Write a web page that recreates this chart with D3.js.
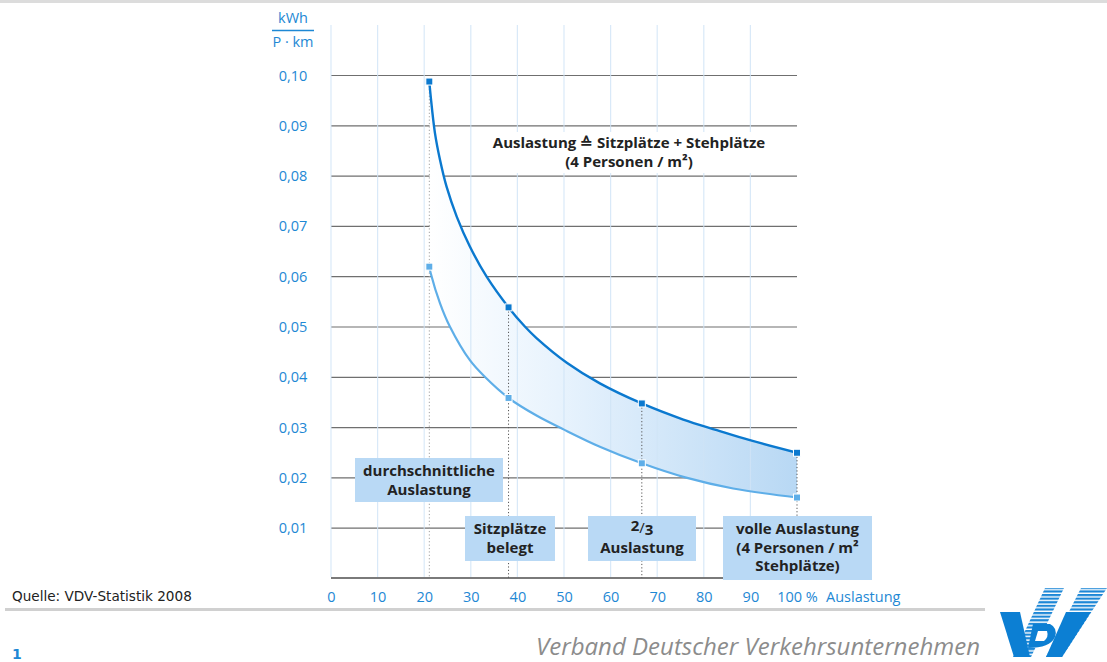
<!DOCTYPE html>
<html>
<head>
<meta charset="utf-8">
<script src="https://cdn.jsdelivr.net/npm/d3@7"></script>
<style>
  body { margin: 0; background: #fff; }
  svg { display: block; }
</style>
</head>
<body>
<div id="chart"></div>
<script>
// Werte (x = Auslastung in %, y = kWh je Personen-km)
const upperX = [21.1, 21.4, 22.3, 23.4, 24.8, 27.0, 29.8, 33.4, 38.1, 41.6, 44.1, 50.6, 57.7, 66.7, 75.6, 82.8, 89.9, 100];
const upperY = [0.0987, 0.0957, 0.0885, 0.0831, 0.0778, 0.0718, 0.0659, 0.0599, 0.0538, 0.0500, 0.0477, 0.0428, 0.0387, 0.0347, 0.0315, 0.0294, 0.0274, 0.0249];
const lowerX = [21.1, 21.4, 23.4, 25.5, 29.8, 33.0, 38.1, 44.1, 50.0, 57.7, 66.7, 76.0, 86.3, 100];
const lowerY = [0.0619, 0.0606, 0.0546, 0.0500, 0.0433, 0.0400, 0.0358, 0.0323, 0.0295, 0.0261, 0.0228, 0.0200, 0.0178, 0.0160];
const markerX = [21.1, 38.1, 66.7, 100];
const yTicks = [0.01, 0.02, 0.03, 0.04, 0.05, 0.06, 0.07, 0.08, 0.09, 0.10];
const xTicks = [0, 10, 20, 30, 40, 50, 60, 70, 80, 90, 100];
const boxLabels = [
  ["durchschnittliche", "Auslastung"],
  ["Sitzplätze", "belegt"],
  ["2/3", "Auslastung"],
  ["volle Auslastung", "(4 Personen / m²", "Stehplätze)"]
];

const W = 1107, H = 662;
const blue = "#1e88d4", darkBlue = "#0b79cf", lightBlue = "#5eaee8";
const boxFill = "#b9d9f5";
const boldFont = "'Open Sans', sans-serif";

const svg = d3.select("#chart").append("svg")
  .attr("width", W).attr("height", H);

const x = d3.scaleLinear().domain([0, 100]).range([331, 797]);
const y = d3.scaleLinear().domain([0, 0.10]).range([578, 75]);

const upper = upperX.map((d, i) => ({ x: d, y: upperY[i] }));
const lower = lowerX.map((d, i) => ({ x: d, y: lowerY[i] }));
const valAt = (arr, xv) => arr.find(p => p.x === xv).y;
const curve = d3.curveCatmullRom.alpha(0.5);

// obere Trennlinie
svg.append("rect").attr("x", 0).attr("y", 0).attr("width", W).attr("height", 3).attr("fill", "#dcdcdc");

// waagerechte Gitterlinien
svg.append("g")
  .attr("transform", `translate(${x(0)},0)`)
  .call(d3.axisLeft(y).tickValues(yTicks).tickSize(-(x(100) - x(0))).tickFormat(""))
  .call(g => g.select(".domain").remove())
  .call(g => g.selectAll("line").attr("stroke", "#6f6f6f").attr("stroke-width", 1.2));

// Fläche zwischen den Kurven
const defs = svg.append("defs");
const grad = defs.append("linearGradient").attr("id", "band")
  .attr("gradientUnits", "userSpaceOnUse")
  .attr("x1", x(21)).attr("x2", x(100)).attr("y1", 0).attr("y2", 0);
grad.append("stop").attr("offset", 0).attr("stop-color", "#ffffff");
grad.append("stop").attr("offset", 0.35).attr("stop-color", "#e8f3fd");
grad.append("stop").attr("offset", 1).attr("stop-color", "#b8d8f4");

defs.append("clipPath").attr("id", "aboveLower")
  .append("path")
  .attr("d", d3.area().x(d => x(d.x)).y0(0).y1(d => y(d.y)).curve(curve)(lower));

svg.append("path")
  .attr("d", d3.area().x(d => x(d.x)).y0(y(0)).y1(d => y(d.y)).curve(curve)(upper))
  .attr("fill", "url(#band)")
  .attr("clip-path", "url(#aboveLower)");

// senkrechte Hilfslinien
svg.append("g").selectAll("line")
  .data(xTicks.slice(0, 10))
  .enter().append("line")
  .attr("x1", d => x(d)).attr("x2", d => x(d))
  .attr("y1", 25).attr("y2", 577)
  .attr("stroke", "#cfe4f6").attr("stroke-opacity", 0.8).attr("stroke-width", 1.2);

// weißer Hintergrund für die Beschriftung oben
svg.append("rect").attr("x", 474).attr("y", 132).attr("width", 312).attr("height", 41).attr("fill", "#fff");

// x-Achse (Nulllinie)
svg.append("line")
  .attr("x1", x(0)).attr("x2", x(100))
  .attr("y1", y(0)).attr("y2", y(0))
  .attr("stroke", "#7a7a7a").attr("stroke-width", 2);

// gepunktete Senkrechte
svg.append("g").selectAll("line")
  .data(markerX)
  .enter().append("line")
  .attr("x1", d => x(d)).attr("x2", d => x(d))
  .attr("y1", d => y(valAt(upper, d)) + 4).attr("y2", y(0))
  .attr("stroke", (d, i) => i === 0 ? "#a0a0a0" : "#555")
  .attr("stroke-width", 1)
  .attr("stroke-dasharray", "1.2,2.2");

// Kurven
const line = d3.line().x(d => x(d.x)).y(d => y(d.y)).curve(curve);
svg.append("path").attr("d", line(lower))
  .attr("fill", "none").attr("stroke", lightBlue).attr("stroke-width", 2.2);
svg.append("path").attr("d", line(upper))
  .attr("fill", "none").attr("stroke", darkBlue).attr("stroke-width", 2.4);

// Markierungen
svg.append("g").selectAll("rect")
  .data(markerX)
  .enter().append("rect")
  .attr("x", d => x(d) - 3.5).attr("y", d => y(valAt(lower, d)) - 3.5)
  .attr("width", 7).attr("height", 7)
  .attr("fill", lightBlue).attr("stroke", "#fff").attr("stroke-width", 1);
svg.append("g").selectAll("rect")
  .data(markerX)
  .enter().append("rect")
  .attr("x", d => x(d) - 3.5).attr("y", d => y(valAt(upper, d)) - 3.5)
  .attr("width", 7).attr("height", 7)
  .attr("fill", darkBlue).attr("stroke", "#fff").attr("stroke-width", 1);

// Beschriftungskästen
const boxes = [
  { x0: 355, x1: 503, y0: 458, y1: 502 },
  { x0: 465, x1: 555, y0: 516, y1: 561 },
  { x0: 588, x1: 696, y0: 516, y1: 561 },
  { x0: 723, x1: 872, y0: 516, y1: 580 }
];
boxLabels.forEach((lines, i) => {
  const r = boxes[i];
  svg.append("rect")
    .attr("x", r.x0).attr("y", r.y0)
    .attr("width", r.x1 - r.x0).attr("height", r.y1 - r.y0)
    .attr("fill", boxFill);
  const cx = (r.x0 + r.x1) / 2;
  lines.forEach((t, j) => {
    const txt = svg.append("text")
      .attr("x", cx).attr("y", r.y0 + 18 + j * 18.5)
      .attr("text-anchor", "middle")
      .style("font-family", boldFont)
      .style("font-weight", "bold")
      .style("font-size", "15px")
      .style("fill", "#222");
    if (t === "2/3") {
      txt.attr("y", r.y0 + 16);
      txt.append("tspan").attr("dy", -1).text("2");
      txt.append("tspan").attr("dy", 1.5).style("font-weight", "normal").text("/");
      txt.append("tspan").attr("dy", 2).text("3");
    } else {
      txt.text(t);
    }
  });
});

// Beschriftung oben
svg.append("text")
  .attr("x", 629).attr("y", 148)
  .attr("text-anchor", "middle")
  .style("font-family", boldFont).style("font-weight", "bold")
  .style("font-size", "15px").style("fill", "#222")
  .text("Auslastung ≙ Sitzplätze + Stehplätze");
svg.append("text")
  .attr("x", 629).attr("y", 167)
  .attr("text-anchor", "middle")
  .style("font-family", boldFont).style("font-weight", "bold")
  .style("font-size", "15px").style("fill", "#222")
  .text("(4 Personen / m²)");

// y-Beschriftung
svg.append("g")
  .attr("transform", "translate(293,0)")
  .call(d3.axisLeft(y).tickValues(yTicks).tickSize(0)
    .tickFormat(d => d3.format(".2f")(d).replace(".", ",")))
  .call(g => g.select(".domain").remove())
  .call(g => g.selectAll("text")
    .attr("x", 0).attr("dy", "0.35em")
    .attr("text-anchor", "middle")
    .style("font-family", "'Open Sans', sans-serif")
    .style("font-size", "14.5px")
    .style("fill", blue));

// Einheit
svg.append("text").attr("x", 293).attr("y", 23).attr("text-anchor", "middle")
  .style("font-family", "'Open Sans', sans-serif").style("font-size", "14.5px").style("fill", blue)
  .text("kWh");
svg.append("line").attr("x1", 272).attr("x2", 314).attr("y1", 30.5).attr("y2", 30.5)
  .attr("stroke", blue).attr("stroke-width", 1.3);
svg.append("text").attr("x", 293).attr("y", 47).attr("text-anchor", "middle")
  .style("font-family", "'Open Sans', sans-serif").style("font-size", "14.5px").style("fill", blue)
  .text("P · km");

// x-Beschriftung
svg.append("g")
  .attr("transform", "translate(0,591)")
  .call(d3.axisBottom(x).tickValues(xTicks).tickSize(0)
    .tickFormat(d => d === 100 ? "100 %" : d))
  .call(g => g.select(".domain").remove())
  .call(g => g.selectAll("text")
    .attr("y", 0).attr("dy", "0.75em")
    .style("font-family", "'Open Sans', sans-serif")
    .style("font-size", "14.5px")
    .style("fill", blue));
svg.append("text").attr("x", 826).attr("y", 602)
  .style("font-family", "'Open Sans', sans-serif").style("font-size", "14.5px").style("fill", blue)
  .text("Auslastung");

// Quelle
svg.append("text").attr("x", 12).attr("y", 601)
  .style("font-family", "'DejaVu Sans', sans-serif").style("font-size", "13.6px").style("fill", "#222")
  .text("Quelle: VDV-Statistik 2008");

// Fußzeile
svg.append("rect").attr("x", 5).attr("y", 608).attr("width", 980).attr("height", 3).attr("fill", "#d0d0d0");
svg.append("text").attr("x", 12).attr("y", 659)
  .style("font-family", "'DejaVu Sans', sans-serif").style("font-weight", "bold")
  .style("font-size", "14px").style("fill", blue)
  .text("1");
svg.append("text").attr("x", 536).attr("y", 655)
  .attr("textLength", 444).attr("lengthAdjust", "spacingAndGlyphs")
  .style("font-family", "'Open Sans', sans-serif").style("font-style", "italic")
  .style("font-size", "23px").style("fill", "#8c8c8c")
  .text("Verband Deutscher Verkehrsunternehmen");

// VDV-Logo (vereinfacht)
const pat = defs.append("pattern").attr("id", "stripes")
  .attr("patternUnits", "userSpaceOnUse").attr("width", 10).attr("height", 3.6);
pat.append("rect").attr("width", 10).attr("height", 3.6).attr("fill", "#fff");
pat.append("rect").attr("width", 10).attr("height", 2.2).attr("fill", "#1d87d6");
const logo = svg.append("g");
logo.append("path").attr("d", "M1013,657 L1031,657 L1064,588 L1045,588 Z").attr("fill", "url(#stripes)");
logo.append("path").attr("d", "M1081,588 L1107,588 L1062,657 L1046,657 Z").attr("fill", "url(#stripes)");
logo.append("path").attr("d", "M1066,612 L1091,612 L1062,657 L1046,657 Z").attr("fill", "#0c7fd3");
logo.append("path").attr("d", "M1000,612 L1020,612 L1030,657 L1014,657 Z").attr("fill", "#0c7fd3");
logo.append("path").attr("d", "M1033,624 L1050,624 Q1058,628 1055,637 Q1050,648 1028,648 Z").attr("fill", "#0c7fd3");
logo.append("path").attr("d", "M1038,631 L1047,631 Q1049,637 1044,641 L1035,641 Z").attr("fill", "#fff");
</script>
</body>
</html>
